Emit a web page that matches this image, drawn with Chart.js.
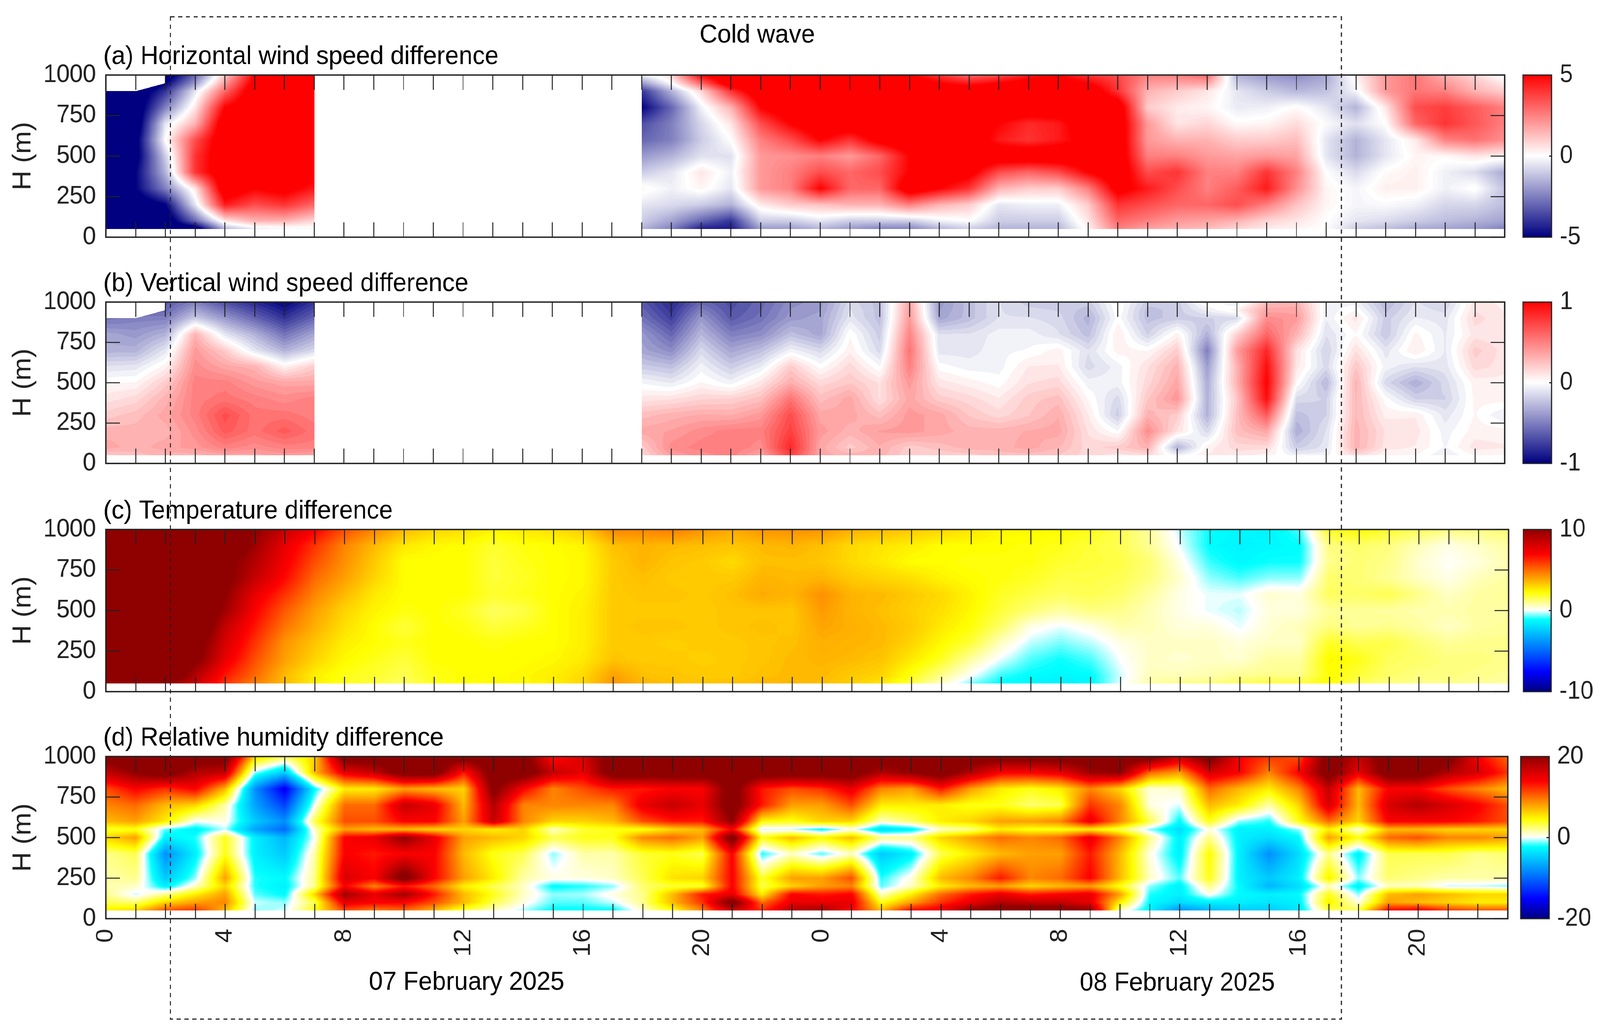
<!DOCTYPE html>
<html>
<head>
<meta charset="utf-8">
<title>Cold wave differences</title>
<script src="https://cdn.jsdelivr.net/npm/chart.js@4"></script>
<style>
html,body{margin:0;padding:0;background:#fff;overflow:hidden}
#page{position:absolute;left:0;top:0;width:4336px;height:2641px;transform-origin:0 0}
canvas{position:absolute}
</style>
</head>
<body>
<div id="page"></div>
<script>
const N = null;
const gap = [N,N,N,N,N,N,N,N,N,N];
const hours = [...Array(48).keys()];
const xTickLabels = ["0","4","8","12","16","20","0","4","8","12","16","20"];
const yTicks = [0,250,500,750,1000];
const windHeights = [50,100,200,300,400,500,600,700,800,900,950,1000];
const tempHeights = [50,100,200,300,400,500,600,700,800,900,1000];
const rhHeights = [50,100,150,200,250,400,500,550,600,700,800,900,1000];

// horizontal wind, one row per height
const horizontalWind = [
[-6,-6,-6,-6,-1.5,-.5,-.3,-.2,...gap,-1.5,-2.5,-4.5,-4.5,-2,-2,-1.5,-2,-2.5,-2.5,-1.5,-1,-1.5,-1.5,-1.5,.2,2.5,1.8,1.5,1.3,.8,.4,.2,0,-1,-1.3,-1.7,-1.8,-2,-2.5],
[-6,-6,-6,-3,.5,1.5,1.5,.8,...gap,-1,-1.8,-3,-4,-1,-1,-.5,-1,-1,-1,-.3,0,-1,-1,-1,.5,3,2.5,2,1.8,1.5,.8,.5,0,-.5,-.7,-1,-1.3,-1.5,-1.8],
[-6,-6,-5,-.5,4.5,3.5,4,3,...gap,-.5,-.7,-1,-1.5,.4,1,1.2,1.5,1.5,2.5,1.5,1,-.5,-.3,-.3,1,4,3.5,3,3,3.5,2.5,1.2,.2,-.2,-.1,-.3,-.8,-.8,-1.3],
[-6,-5,-2.5,.5,6,5,5.5,4.5,...gap,.2,-.3,.2,-.5,2,2.5,5,3,3,6,5,4,1.5,1,1,2.5,5.5,4.5,3.5,2.5,3.2,4.5,2.2,.2,-.2,.3,.3,-.3,.1,-1.2],
[-6,-5,-1.5,4,6,6,6,5.5,...gap,-1,-.5,.5,-.3,2,2.5,3.5,3,3.5,5,6,5.5,3.5,3,3.5,5,6,3.5,4,2.5,2.5,4,2.5,0,-.7,.1,.3,-.3,-.7,-1.7],
[-6,-5.5,-1,4,6,6,6,6,...gap,-2,-1.5,-.6,-.6,2,2.2,2.5,2,3,5,6,6,6,6,6,6,6,2.5,2.5,2,1.8,2,1.8,-.5,-1.5,-.5,.2,.1,.5,.3],
[-6,-5.5,0,3.5,6,6,6,6,...gap,-3,-2.5,-1,0,2.5,3.5,5,4,5.5,6,6,6,4.5,4,4.5,5.5,6,2,1.5,1.5,1,1,1.3,-.5,-1.5,-.5,.4,2.5,2.8,2.2],
[-6,-6,-.5,1.5,6,6,6,6,...gap,-3.5,-2.5,-.8,.5,3.5,5,6,6,6,6,6,6,5,4.2,4.5,6,6,2,.5,.8,.1,.2,.7,-.1,-.6,0,3,4,3.3,2.5],
[-6,-6,-2.5,.5,5,6,6,6,...gap,-5,-3,-.3,1.5,5,6,6,6,6,6,6,6,6,6,6,6,6,1,.4,.2,-.4,-.3,.1,-.5,-1.5,.5,3.5,3.8,3.2,2.5],
[-6,-6,-4,-.5,3,6,6,6,...gap,-4,-1.5,.8,4,6,6,6,6,6,6,6,6,6,6,6,6,4,1.5,1,.5,-.5,-1,-1.4,-1.2,-.2,2,2.7,2.5,1.5,1],
[N,N,-5,-2,2,5.5,6,6,...gap,-2,0,3,6,6,6,6,6,6,6,5,4.5,5,5.5,5.5,5,3.8,2,1.8,1.8,-1,-1.5,-1.8,-1.5,0,2,2.7,2,1.2,.4],
[N,N,-6,-3,1,5,6,6,...gap,-.3,.8,5,6,6,6,6,6,6,5,4,3,3.5,4.5,5,4,3.5,2.5,2.5,3,-1.5,-2,-2.3,-1.7,.3,2,2.7,1.5,.8,-.2]
];

// vertical wind, one row per height
const verticalWind = [
[.2,.25,.3,.3,.35,.35,.4,.35,...gap,.15,.38,.45,.5,.35,.75,.35,.3,.3,.18,.18,.2,.25,.25,.22,.15,.1,.15,-.05,.08,.1,.05,-.05,-.05,.15,.03,.03,-.08,.03,.02],
[.35,.3,.35,.4,.5,.45,.5,.5,...gap,.2,.45,.5,.52,.45,.85,.35,.2,.32,.2,.25,.3,.3,.35,.28,.15,.2,.3,-.3,.05,.15,.15,-.2,-.1,.3,.1,.07,-.03,.1,.08],
[.3,.3,.3,.45,.65,.55,.65,.55,...gap,.35,.38,.45,.5,.5,.75,.4,.3,.38,.4,.35,.3,.3,.33,.35,.12,-.02,.45,.12,-.15,.25,.35,-.32,-.12,.3,.12,.1,-.05,.05,.05],
[.2,.25,.35,.5,.7,.55,.55,.5,...gap,.25,.3,.33,.32,.4,.7,.35,.35,.25,.4,.35,.22,.15,.22,.32,.08,-.2,.3,.2,-.3,.25,.65,-.25,-.18,.28,.06,.07,-.1,.03,-.08],
[.1,.15,.3,.5,.55,.5,.45,.5,...gap,.1,.12,.17,.18,.25,.55,.25,.35,.12,.35,.2,.15,.08,.2,.25,.02,-.15,.22,.42,-.3,.22,.95,-.15,-.18,.28,0,-.18,-.18,.04,.05],
[.02,.03,.2,.5,.5,.4,.35,.35,...gap,-.03,-.08,.03,-.05,.1,.32,.15,.22,.12,.4,.1,.05,0,.12,.15,-.05,-.05,.15,.35,-.32,.3,1,.02,-.28,.3,-.15,-.32,-.15,.05,.05],
[-.12,-.1,.05,.45,.35,.3,.05,.2,...gap,-.2,-.25,-.05,-.2,-.08,.2,0,.15,-.02,.5,0,-.05,-.05,.08,.08,-.15,-.05,.12,.3,-.38,.3,.95,.1,-.15,.22,-.05,-.12,-.1,.15,.1],
[-.3,-.3,-.1,.4,.2,-.1,-.3,-.15,...gap,-.35,-.45,-.15,-.35,-.25,-.05,-.15,.06,-.15,.55,-.1,-.1,-.04,-.02,.05,-.12,.05,.02,.2,-.5,.38,.85,.12,-.18,.12,-.1,.08,-.08,.2,.1],
[-.35,-.4,-.3,.3,-.1,-.3,-.55,-.35,...gap,-.4,-.6,-.28,-.5,-.45,-.25,-.35,.02,-.2,.48,-.12,-.12,-.05,-.05,-.12,-.25,.08,-.18,.05,-.3,.18,.6,.3,-.12,.02,-.22,.04,-.08,.1,.08],
[-.55,-.5,-.5,-.2,-.4,-.6,-.8,-.6,...gap,-.55,-.75,-.4,-.65,-.55,-.4,-.35,-.1,-.25,.4,-.35,-.25,-.12,-.12,-.15,-.3,0,-.25,-.2,-.18,-.15,.45,.4,-.07,.1,-.2,-.07,-.1,.15,.08],
[N,N,-.6,-.35,-.55,-.72,-.9,-.7,...gap,-.6,-.8,-.5,-.68,-.58,-.42,-.38,-.12,-.25,.38,-.38,-.25,-.12,-.16,-.18,-.25,.02,-.25,-.2,-.06,.05,.35,.35,-.06,.02,-.24,-.1,-.14,.12,.07],
[N,N,-.65,-.5,-.7,-.85,-1,-.8,...gap,-.65,-.85,-.6,-.7,-.6,-.45,-.4,-.15,-.25,.35,-.4,-.25,-.12,-.2,-.2,-.2,.03,-.2,-.2,.05,-.1,.25,.3,-.05,-.05,-.28,-.12,-.18,.1,.06]
];

// temperature, one row per hour
const temperatureByHour = [
[12,12,12,12,12,12,12,12,12,12,12],[12,12,12,12,12,12,12,12,12,12,12],[10,12,12,12,12,12,12,12,12,12,12],
[8.5,9,10.5,11,12,12,12,12,12,12,12],[6,6.5,7.5,8,8.5,9.5,10,10.5,10.5,12,12],[4.6,5,5.5,6,6.5,7,7.5,8.5,9,9.5,10],
[3.5,3.5,4,4.2,4.8,5.3,6,6.8,7.2,7.5,8.5],[2.5,2.5,3,3.3,3.7,4,4.5,5,5.5,6,7],[2,2,2.3,2.5,2.8,3,3.5,4,4.3,4.5,5.5],
[1.7,1.8,2,2.2,2.2,2.4,2.6,3,3.2,3.5,4.5],[1.4,1.5,1.7,2,1.7,2.1,2.2,2.2,2.2,2.6,3.5],[2,2,2.2,2.2,2.2,2.2,2.2,2.2,2.2,2.3,3],
[2.2,2.2,2.2,2.2,2.1,1.9,2.2,2.2,2.2,2.2,2.8],[2.3,2.2,2.2,2.1,1.7,1.4,1.8,1.7,1.7,1.8,2.4],[2.3,2.3,2.2,2.2,1.9,1.6,2,1.9,2,2.1,2.6],
[2.5,2.5,2.3,2.2,2.2,2.2,2.2,2.2,2.2,2.2,2.8],[3,2.9,2.6,2.5,2.5,2.5,2.4,2.3,2.3,2.4,3.2],[4.2,4,3.3,3.2,3.2,3.2,3.2,3.2,3.2,3.4,4.5],
[3.6,3.4,3.2,3.2,3.3,3.2,3.3,3.4,3.6,3.6,4.5],[3.4,3.3,3.2,3.1,3.3,3.2,3.3,3.2,3.3,3.5,4.7],[3.3,3.2,3.1,3.2,3.2,3.2,3.2,3.2,3.2,3.4,4.2],
[3.4,3.2,3.2,3.2,3.3,3.3,3.4,3.2,2.9,3.3,3.8],[3.5,3.4,3.3,3.3,3.4,3.3,3.8,3.6,3.4,3.5,4.2],[3.6,3.5,3.5,3.4,3.3,3.3,3.6,3.5,3.4,3.6,4.3],
[3.4,3.5,3.6,3.7,3.9,4.1,4.3,3.6,3.3,3.4,4.2],[3.1,3.2,3.5,3.6,3.7,3.6,3.6,3.2,2.9,2.9,3.7],[2.7,3,3.3,3.5,3.5,3.4,3.5,3,2.6,2.7,3.5],
[1.6,2,2.6,3,3.2,3.1,3.2,2.8,2.2,2.5,3.2],[.5,1,1.9,2.3,2.6,2.8,2.9,2.4,2.2,2.2,3],[-.6,0,.8,1.7,2.1,2.3,2.4,2.2,2.1,2.2,2.7],
[-1.2,-.9,-.1,.5,1.3,1.7,1.9,2.1,2.1,2.2,2.3],[-1.3,-1.2,-.8,-.3,.2,1.2,1.6,1.9,2.1,2.1,2.3],[-1.5,-1.3,-1.1,-.6,-.1,.8,1.4,1.6,1.8,2,2.2],
[-1.3,-1.2,-.8,-.3,.2,1.1,1.5,1.6,1.7,1.7,2],[-.1,-.2,0,.2,.7,1,1.3,1.5,1.6,1.5,1.5],[.8,.6,.5,.5,.6,.6,.8,1.1,1.2,.9,.8],
[1,.6,.4,.5,.3,.2,.2,.4,.2,-.1,-.3],[1.1,.7,.5,.5,.3,-.1,-.1,-.5,-.9,-1.2,-1.1],[1.4,.9,.4,.3,-.1,-.3,-.1,-.8,-1.3,-1.4,-1.3],
[1.7,1,.8,.5,.4,.3,.4,-.5,-1.1,-1.3,-1.4],[1.7,1,.8,.5,.6,.3,.3,-.5,-1.1,-1.2,-.8],[2.2,2.2,2.3,1.9,1.1,.9,1.4,1.3,1,1.1,1.9],
[1.4,1.7,2,1.5,.9,.9,1.3,1.2,1.2,1.3,2.2],[1.1,1.3,1.4,1.6,1,.8,1.5,.9,1,1.1,1.8],[1,1.1,1.3,1.2,.8,.7,1,.5,.4,.6,1.4],
[1,1.1,1.1,.9,.5,.7,.5,.2,.05,.2,1.1],[.9,1,1.1,1,.8,.8,.8,.6,.3,.5,1.1],[.8,.9,1,1,.9,.8,.9,.8,.7,.8,1.2]
];

// relative humidity, one row per hour
const humidityByHour = [
[5,3,2,1.5,1.5,2,6,3.5,7,9,11,17,22],[6,2.5,-.5,1,2,3,8,4,8,10,14,20,22],[11,6,2,-3,-5,-8,-3,-1.5,5,7,12,22,22],
[12,8,5,1,-1,-3,-2,-3,0,6,14,18,22],[7,9,8,6,8,4,4,-.5,.5,1.5,7,17,22],[-1,-.5,-1.5,-2,-2,-3,-3,-7,-5,-7,-8,-1,6],
[-.5,-1,-2.5,-3,-2.5,-5,-6,-10,-8,-12,-16,-5,3],[4,3,6,2,2,1.5,0,1,3,0,-2.5,7,6],[11,15,19,14,16,14,14,8,11,10,5,15,22],
[9,14,15,9,14,13,15,7,11,10,5,17,22],[10,14,19,13,22,14,20,7,14,17,8,22,22],[7,11,13,10,14,14,15,6,14,15,7,22,22],
[3,7,7,5,8,7,8,6,8,7,6,13,22],[1,3,4,3,5,4,7,5,17,18,21,22,22],[-.7,.5,1,1,1.5,3,6,6,9,9,14,22,22],
[-2.5,-1.5,-1,-2.5,.5,-1,3,1,6,9,9,17,13],[-2.5,-1.5,-.8,-2,.5,1.5,4,3.5,6,9,11,15,16],[-2.5,-.5,.5,-1,1,1.5,4,4,7,9,13,22,22],
[.8,2,2,2.5,3,3.5,9,4,11,15,13,22,22],[4,7,7,3.5,5.5,4,10,6,13,17,14,22,22],[9,12,13,3.5,6,3,8,7,13,15,14,22,22],
[17,22,15,14,14,14,22,14,20,22,22,22,22],[12,10,5,3,3.5,-2,4,-.5,4.5,13,13,22,22],[18,15,14,6,8,1,7,-.5,4,8,11,22,22],
[19,15,13,8,8,-1.5,4.5,-2.5,6,8,12,22,22],[14,15,14,9,11,1,7,.3,6,11,15,22,22],[7,4,1,-1.5,-2,-5,2,-4,1,5,9,18,22],
[14,8,5,1,.5,-3,2,-3,2.5,5,8,20,22],[15,12,10,5,7,3,6,1,5,5,13,22,22],[20,15,13,7,9,5,8,2,6,4,8,18,22],
[22,18,15,8,13,7,10,5,8,4,5,14,22],[22,17,13,6,9,8,9,4,8,2.5,4,14,22],[22,17,14,7,10,8,10,4,9,3,5,15,22],
[20,15,15,8,14,13,15,5,15,12,9,19,22],[1,5,8,4,7,7,9,3,9,9,6,20,22],[-3,-2.5,-2,-1,1,.5,2,-1,3,.5,.5,10,22],
[-8,-4,-3,-3,-1.5,-3,-3,-4,-2.5,-.3,1,8,17],[-6,-3,.3,2,4,4.5,2,.5,4,7,10,16,22],[-5,-3,-2.5,-2.5,-3,-3,-3,-3,-1,5,7,14,14],
[-5,-3.5,-3,-6,-5,-8,-4,-3,-2,1.5,5,9,12],[-3.5,-3,-2.5,-4,-3,-4,-2.5,-1,4,6,9,14,11],[3,5,4,1,5,2,8,5,10,16,17,22,22],
[3,.5,-1,-3,-1,-3,4,.5,6,7,7,15,17],[14,8,7,1,2.5,3,10,7,14,16,14,22,22],[15,7,8,1,2,3,11,7,14,18,14,22,22],
[12,6,7,-.5,1.5,3,9,6,14,16,11,18,22],[11,5,6,-.5,1.5,2,9,6,13,14,9,16,14],[11,5,6,-1,1.5,2.5,8,6,11,11,7,12,10]
];

const panelTitles = ["(a) Horizontal wind speed difference","(b) Vertical wind speed difference","(c) Temperature difference","(d) Relative humidity difference"];
const dayLabels = ["07 February 2025","08 February 2025"];

const blueWhiteRed = [[-1,0,0,128],[0,255,255,255],[1,255,0,0]];
const jetWhite = [[-1,0,0,128],[-.76,0,0,255],[-.44,0,128,255],[-.114,0,255,255],[0,255,255,255],[.22,255,255,0],[.46,255,128,0],[.69,255,0,0],[1,143,0,0]];

const W = 4336, H = 2641;
const FONT = '"Liberation Sans", Arial, sans-serif';
const INK = "#222";

// the browser may open narrower than asked for, so fit the whole figure to the window
const page = document.getElementById("page");
page.style.transform = "scale("+(Math.min(window.innerWidth, W)/W)+","+(Math.min(window.innerHeight, H)/H)+")";

function ramp(stops, t){
    if(t <= stops[0][0]) return stops[0].slice(1);
    for(let i = 1; i < stops.length; i++){
        if(t <= stops[i][0]){
            const a = stops[i-1], b = stops[i], f = (t-a[0])/(b[0]-a[0]);
            return [a[1]+(b[1]-a[1])*f, a[2]+(b[2]-a[2])*f, a[3]+(b[3]-a[3])*f];
        }
    }
    return stops[stops.length-1].slice(1);
}

function byHeight(cols){
    return cols[0].map((_, r) => cols.map(c => c[r]));
}

// value at (t, h) between the four readings round it, null where there is none
function sample(rows, heights, t, h){
    if(h < heights[0] || h > heights[heights.length-1] || t < 0 || t > 47) return null;
    let j = 0;
    while(j < heights.length-2 && h > heights[j+1]) j++;
    const i = Math.min(46, Math.floor(t));
    const u = t-i, v = (h-heights[j])/(heights[j+1]-heights[j]);
    let a = rows[j][i], b = rows[j][i+1], c = rows[j+1][i], d = rows[j+1][i+1];
    const missing = (a===null)+(b===null)+(c===null)+(d===null);
    if(missing > 1) return null;
    if(missing === 1){
        if(a===null){ if(u+v < 1) return null; a = b+c-d; }
        if(b===null){ if((1-u)+v < 1) return null; b = a+d-c; }
        if(c===null){ if(u+(1-v) < 1) return null; c = a+d-b; }
        if(d===null){ if((1-u)+(1-v) < 1) return null; d = b+c-a; }
    }
    return (a*(1-u)+b*u)*(1-v)+(c*(1-u)+d*u)*v;
}

const heatPlugin = {
    id: "heat",
    beforeDatasetsDraw(chart, args, opts){
        const {left, top, right, bottom} = chart.chartArea;
        const w = Math.round(right-left), h = Math.round(bottom-top);
        const off = document.createElement("canvas");
        off.width = w; off.height = h;
        const octx = off.getContext("2d");
        const img = octx.createImageData(w, h);
        const ts = [], hs = [];
        for(let i = 0; i < w; i++) ts.push(chart.scales.x.getValueForPixel(left+i+.5));
        for(let j = 0; j < h; j++) hs.push(chart.scales.y.getValueForPixel(top+j+.5));
        let p = 0;
        for(let j = 0; j < h; j++){
            for(let i = 0; i < w; i++, p += 4){
                const val = sample(opts.rows, opts.heights, ts[i], hs[j]);
                if(val === null) continue;
                const lev = Math.round(val/opts.step)*opts.step;
                const col = ramp(opts.stops, lev/opts.limit);
                img.data[p] = col[0]; img.data[p+1] = col[1]; img.data[p+2] = col[2]; img.data[p+3] = 255;
            }
        }
        octx.putImageData(img, 0, 0);
        chart.ctx.drawImage(off, left, top);
    }
};

const framePlugin = {
    id: "frame",
    afterDraw(chart, args, opts){
        const ctx = chart.ctx, {left, top, right, bottom} = chart.chartArea;
        ctx.save();
        ctx.strokeStyle = INK;
        ctx.lineWidth = 2.5;
        ctx.beginPath();
        chart.scales.x.ticks.forEach(t => {
            const x = chart.scales.x.getPixelForValue(t.value);
            ctx.moveTo(x, top); ctx.lineTo(x, top+38);
            ctx.moveTo(x, bottom); ctx.lineTo(x, bottom-38);
        });
        chart.scales.y.ticks.forEach(t => {
            const y = chart.scales.y.getPixelForValue(t.value);
            ctx.moveTo(left, y); ctx.lineTo(left+38, y);
            ctx.moveTo(right, y); ctx.lineTo(right-38, y);
        });
        ctx.stroke();
        ctx.lineWidth = 3.5;
        ctx.strokeRect(left, top, right-left, bottom-top);
        ctx.fillStyle = "#000";
        ctx.font = "67px "+FONT;
        ctx.textAlign = "left";
        ctx.fillText(opts.title, 280, top-28);
        ctx.restore();
    }
};

const overlayPlugin = {
    id: "overlay",
    afterDraw(chart){
        const ctx = chart.ctx;
        ctx.save();
        ctx.strokeStyle = INK;
        ctx.lineWidth = 3;
        ctx.setLineDash([11,10]);
        ctx.strokeRect(462, 43, 3635-462, 2608-43);
        ctx.setLineDash([]);
        ctx.fillStyle = "#000";
        ctx.font = "67px "+FONT;
        ctx.textAlign = "center";
        ctx.fillText("Cold wave", 2052, 109);
        ctx.textAlign = "left";
        ctx.fillText(dayLabels[0], 1000, 2533);
        ctx.fillText(dayLabels[1], 2926, 2535);
        ctx.restore();
    }
};

const colorbarFrame = {
    id: "cbFrame",
    afterDraw(chart){
        const ctx = chart.ctx, {left, top, right, bottom} = chart.chartArea;
        ctx.save();
        ctx.strokeStyle = INK;
        ctx.lineWidth = 3;
        ctx.strokeRect(left, top, right-left, bottom-top);
        const y0 = chart.scales.y.getPixelForValue(0);
        ctx.beginPath();
        ctx.moveTo(right, y0); ctx.lineTo(right-7, y0);
        ctx.stroke();
        ctx.restore();
    }
};

function addCanvas(x, y, w, h){
    const c = document.createElement("canvas");
    c.width = w; c.height = h;
    c.style.left = x+"px"; c.style.top = y+"px";
    c.style.width = w+"px"; c.style.height = h+"px";
    page.appendChild(c);
    return c.getContext("2d");
}

function heatPanel(p){
    const points = [];
    p.rows.forEach((row, r) => row.forEach((v, i) => {
        if(v !== null) points.push({x: hours[i], y: p.heights[r], v: v});
    }));
    // the last panel also carries the cold wave box, so it gets the whole page
    const y0 = p.last ? 0 : p.top-120;
    const ch = p.last ? H : p.bottom-p.top+200;
    const cw = p.last ? W : p.right+60;
    const axisH = p.last ? 170 : 0;
    return new Chart(addCanvas(0, y0, cw, ch), {
        type: "scatter",
        data: {datasets: [{data: points, pointRadius: 0, showLine: false}]},
        plugins: [heatPlugin, framePlugin, ...(p.last ? [overlayPlugin] : [])],
        options: {
            responsive: false, maintainAspectRatio: false, animation: false, devicePixelRatio: 1,
            layout: {padding: {left: 0, top: p.top-y0, right: cw-p.right, bottom: ch-(p.bottom-y0)-axisH}},
            plugins: {
                legend: {display: false}, tooltip: {enabled: false},
                heat: {rows: p.rows, heights: p.heights, stops: p.stops, limit: p.limit, step: p.step},
                frame: {title: p.title}
            },
            scales: {
                x: {
                    type: "linear", min: 0, max: 47,
                    afterFit: s => { s.height = axisH; },
                    grid: {display: false, drawTicks: false}, border: {display: false},
                    ticks: {
                        display: !!p.last, stepSize: 1, autoSkip: false, maxRotation: 90, minRotation: 90, padding: 26,
                        color: INK, font: {family: FONT, size: 64},
                        callback: v => v % 4 === 0 ? xTickLabels[v/4] : ""
                    }
                },
                y: {
                    type: "linear", min: yTicks[0], max: yTicks[yTicks.length-1],
                    afterFit: s => { s.width = 287; },
                    grid: {display: false, drawTicks: false}, border: {display: false},
                    afterBuildTicks: s => { s.ticks = yTicks.map(v => ({value: v})); },
                    ticks: {padding: 27, color: INK, font: {family: FONT, size: 64}, callback: v => String(v)},
                    title: {display: true, text: "H (m)", color: INK, font: {family: FONT, size: 70}, padding: {top: 22, bottom: 0}}
                }
            }
        }
    });
}

function colorbar(p){
    const sets = [];
    const n = 120;
    for(let i = 0; i < n; i++){
        const lo = -p.limit+2*p.limit*i/n, hi = -p.limit+2*p.limit*(i+1.15)/n;
        const c = ramp(p.stops, (i+.5)/n*2-1);
        sets.push({data: [[lo, Math.min(hi, p.limit)]], backgroundColor: "rgb("+c.map(Math.round).join(",")+")", borderWidth: 0, barPercentage: 1, categoryPercentage: 1, grouped: false});
    }
    const x0 = 4000, y0 = p.top-70, ch = p.bottom-p.top+140;
    return new Chart(addCanvas(x0, y0, W-x0, ch), {
        type: "bar",
        data: {labels: [""], datasets: sets},
        plugins: [colorbarFrame],
        options: {
            responsive: false, maintainAspectRatio: false, animation: false, devicePixelRatio: 1,
            layout: {padding: {left: p.barLeft-x0, top: 70, right: 0, bottom: 70}},
            plugins: {legend: {display: false}, tooltip: {enabled: false}},
            scales: {
                x: {display: false},
                y: {
                    position: "right", min: -p.limit, max: p.limit,
                    afterFit: s => { s.width = W-p.barRight; },
                    grid: {display: false, drawTicks: false}, border: {display: false},
                    afterBuildTicks: s => { s.ticks = [-p.limit,0,p.limit].map(v => ({value: v})); },
                    ticks: {padding: 22, color: INK, font: {family: FONT, size: 64}, callback: v => String(v)}
                }
            }
        }
    });
}

const panels = [
    {title: panelTitles[0], rows: horizontalWind, heights: windHeights, stops: blueWhiteRed, limit: 5, step: .1, top: 192, bottom: 607, right: 4078, barLeft: 4127, barRight: 4205},
    {title: panelTitles[1], rows: verticalWind, heights: windHeights, stops: blueWhiteRed, limit: 1, step: .05, top: 773, bottom: 1186, right: 4078, barLeft: 4127, barRight: 4205},
    {title: panelTitles[2], rows: byHeight(temperatureByHour), heights: tempHeights, stops: jetWhite, limit: 10, step: .1, top: 1355, bottom: 1770, right: 4088, barLeft: 4128, barRight: 4204},
    {title: panelTitles[3], rows: byHeight(humidityByHour), heights: rhHeights, stops: jetWhite, limit: 20, step: .2, top: 1936, bottom: 2351, right: 4086, barLeft: 4121, barRight: 4198, last: true}
];

panels.forEach(colorbar);
panels.forEach(heatPanel);
</script>
</body>
</html>
